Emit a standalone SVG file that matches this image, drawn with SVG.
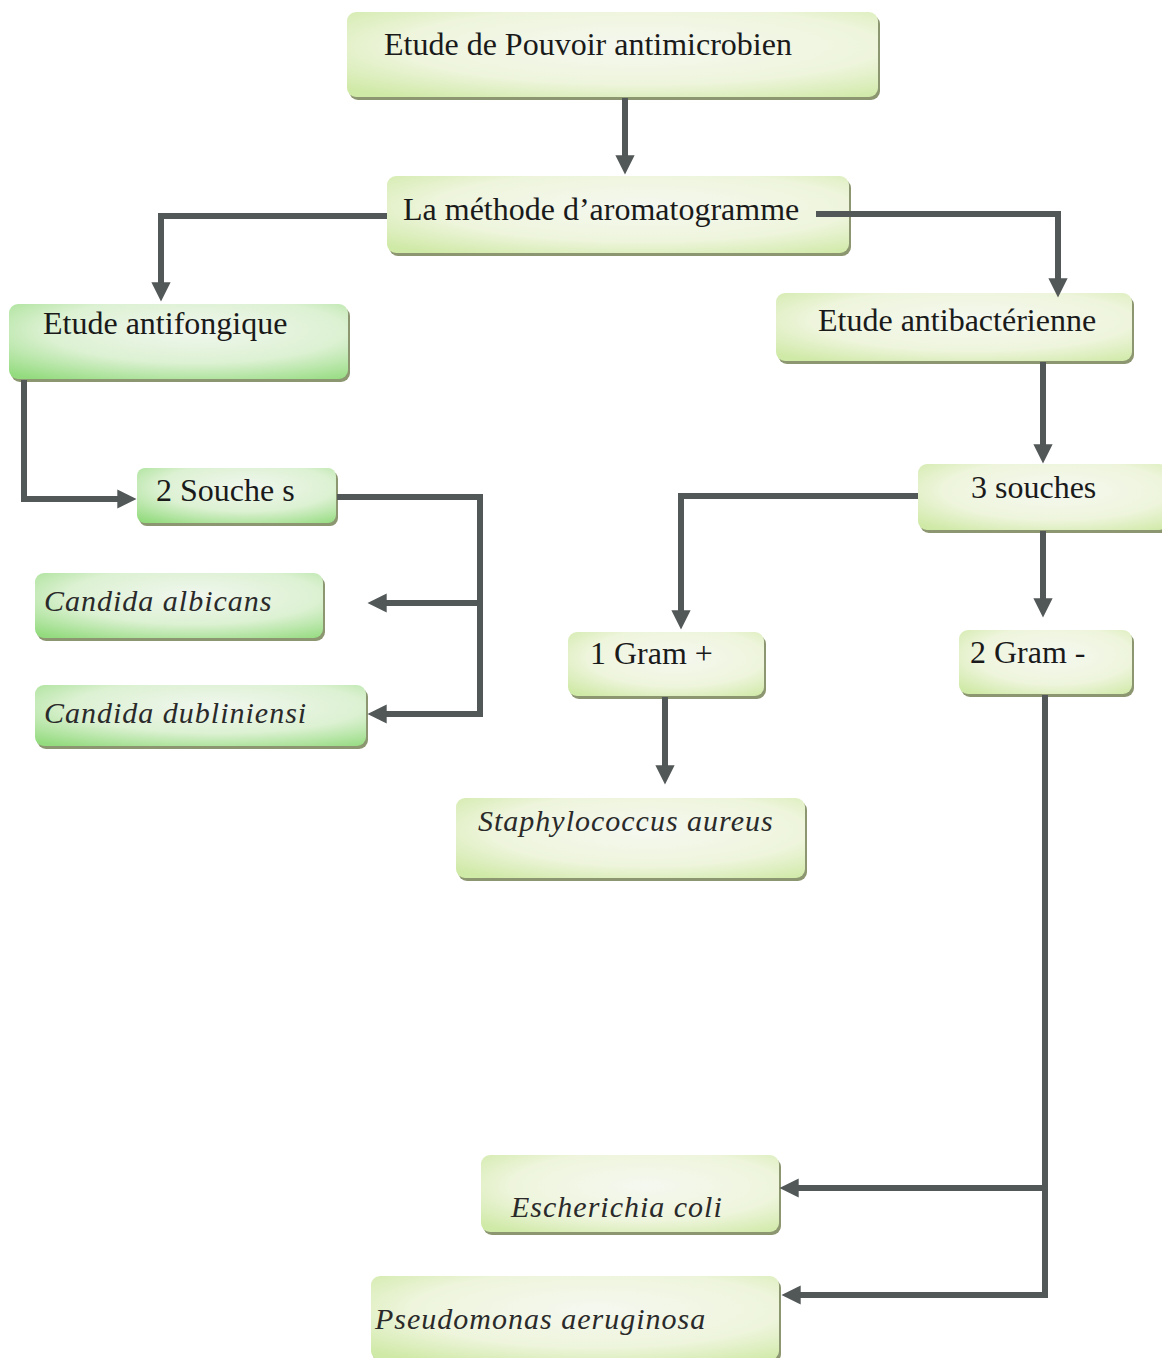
<svg xmlns="http://www.w3.org/2000/svg" width="1162" height="1358" viewBox="0 0 1162 1358">
<style>
.box{stroke:none}
.sh{fill:#8c9670}
.t{font-family:"Liberation Serif","Times New Roman",serif;font-size:32px;fill:#1a1a1a}
.i{font-family:"Liberation Serif","Times New Roman",serif;font-size:30px;font-style:italic;fill:#2a2a2a;letter-spacing:1px}
.c{fill:none;stroke:#525757;stroke-width:6}
</style>
<defs>
<radialGradient id="gy" cx="0.55" cy="0.4" r="0.75">
<stop offset="0" stop-color="#f5f8f0"/>
<stop offset="0.6" stop-color="#eef5dc"/>
<stop offset="1" stop-color="#cfe9a6"/>
</radialGradient>
<radialGradient id="gg" cx="0.55" cy="0.35" r="0.8">
<stop offset="0" stop-color="#f1f7ef"/>
<stop offset="0.55" stop-color="#dcf1d2"/>
<stop offset="1" stop-color="#93db7e"/>
</radialGradient>
<marker id="ah" viewBox="0 0 10 10" refX="4" refY="5" markerWidth="3.2" markerHeight="3.2" orient="auto" markerUnits="strokeWidth">
<path d="M0,0 L10,5 L0,10 Z" fill="#525757"/>
</marker>
</defs>
<rect width="1162" height="1358" fill="#ffffff"/>

<g id="n1">
<rect class="sh" x="349" y="15" width="531" height="85" rx="9"/>
<rect class="box" x="347" y="12" width="531" height="85" rx="9" fill="url(#gy)"/>
<text class="t" x="384" y="55">Etude de Pouvoir antimicrobien</text>
</g>
<g id="n2">
<rect class="sh" x="389" y="179" width="462" height="77" rx="9"/>
<rect class="box" x="387" y="176" width="462" height="77" rx="9" fill="url(#gy)"/>
<text class="t" x="403" y="220">La méthode d’aromatogramme</text>
</g>
<g id="n3">
<rect class="sh" x="11" y="307" width="339" height="75" rx="9"/>
<rect class="box" x="9" y="304" width="339" height="75" rx="9" fill="url(#gg)"/>
<text class="t" x="43" y="334">Etude antifongique</text>
</g>
<g id="n4">
<rect class="sh" x="778" y="296" width="356" height="68" rx="9"/>
<rect class="box" x="776" y="293" width="356" height="68" rx="9" fill="url(#gy)"/>
<text class="t" x="818" y="331">Etude antibactérienne</text>
</g>
<g id="n5">
<rect class="sh" x="139" y="471" width="199" height="55" rx="8"/>
<rect class="box" x="137" y="468" width="199" height="55" rx="8" fill="url(#gg)"/>
<text class="t" x="156" y="501">2 Souche s</text>
</g>
<g id="n6">
<rect class="sh" x="920" y="467" width="250" height="66" rx="9"/>
<rect class="box" x="918" y="464" width="250" height="66" rx="9" fill="url(#gy)"/>
<text class="t" x="971" y="498">3 souches</text>
</g>
<g id="n7">
<rect class="sh" x="37" y="576" width="288" height="65" rx="9"/>
<rect class="box" x="35" y="573" width="288" height="65" rx="9" fill="url(#gg)"/>
<text class="i" x="44" y="611">Candida albicans</text>
</g>
<g id="n8">
<rect class="sh" x="37" y="688" width="331" height="61" rx="9"/>
<rect class="box" x="35" y="685" width="331" height="61" rx="9" fill="url(#gg)"/>
<text class="i" x="44" y="723">Candida dubliniensi</text>
</g>
<g id="n9">
<rect class="sh" x="570" y="635" width="196" height="64" rx="9"/>
<rect class="box" x="568" y="632" width="196" height="64" rx="9" fill="url(#gy)"/>
<text class="t" x="590" y="664">1 Gram +</text>
</g>
<g id="n10">
<rect class="sh" x="961" y="633" width="173" height="64" rx="9"/>
<rect class="box" x="959" y="630" width="173" height="64" rx="9" fill="url(#gy)"/>
<text class="t" x="970" y="663">2 Gram -</text>
</g>
<g id="n11">
<rect class="sh" x="458" y="801" width="349" height="80" rx="9"/>
<rect class="box" x="456" y="798" width="349" height="80" rx="9" fill="url(#gy)"/>
<text class="i" x="478" y="831">Staphylococcus aureus</text>
</g>
<g id="n12">
<rect class="sh" x="483" y="1158" width="298" height="77" rx="9"/>
<rect class="box" x="481" y="1155" width="298" height="77" rx="9" fill="url(#gy)"/>
<text class="i" x="511" y="1217">Escherichia coli</text>
</g>
<g id="n13">
<rect class="sh" x="373" y="1279" width="408" height="84" rx="9"/>
<rect class="box" x="371" y="1276" width="408" height="84" rx="9" fill="url(#gy)"/>
<text class="i" x="375" y="1329">Pseudomonas aeruginosa</text>
</g>

<g id="connectors">
<path class="c" d="M625,98 V163" marker-end="url(#ah)"/>
<path class="c" d="M387,216 H161 V290" marker-end="url(#ah)"/>
<path class="c" d="M816,214 H1058 V286" marker-end="url(#ah)"/>
<path class="c" d="M24,380 V499 H125" marker-end="url(#ah)"/>
<path class="c" d="M337,497 H480 V714 H379" marker-end="url(#ah)"/>
<path class="c" d="M480,603 H379" marker-end="url(#ah)"/>
<path class="c" d="M1043,362 V452" marker-end="url(#ah)"/>
<path class="c" d="M918,496 H681 V618" marker-end="url(#ah)"/>
<path class="c" d="M1043,531 V606" marker-end="url(#ah)"/>
<path class="c" d="M665,697 V773" marker-end="url(#ah)"/>
<path class="c" d="M1045,695 V1295 H793" marker-end="url(#ah)"/>
<path class="c" d="M1045,1188 H791" marker-end="url(#ah)"/>
</g>
</svg>
